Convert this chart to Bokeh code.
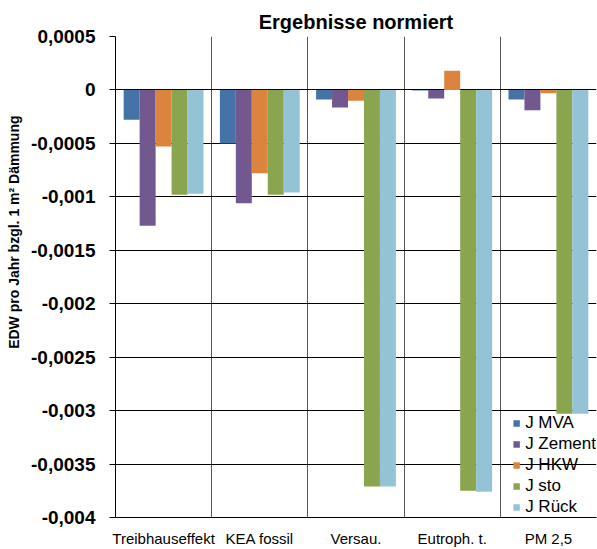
import math
from bokeh.plotting import figure
from bokeh.models import (ColumnDataSource, FixedTicker, CustomJSTickFormatter, Title)
from bokeh.transform import dodge
from bokeh.embed import file_html
from bokeh.resources import INLINE

# ---- data ----
categories = ["Treibhauseffekt", "KEA fossil", "Versau.", "Eutroph. t.", "PM 2,5"]
series_names = ["J MVA", "J Zement", "J HKW", "J sto", "J Rück"]
j_mva = [-0.00028, -0.00050, -0.00009, -0.000005, -0.00009]
j_zement = [-0.00127, -0.00106, -0.000165, -0.00008, -0.00019]
j_hkw = [-0.00053, -0.00078, -0.00010, 0.00018, -0.00003]
j_sto = [-0.00098, -0.00098, -0.00371, -0.00375, -0.00303]
j_rueck = [-0.00097, -0.00096, -0.00371, -0.00376, -0.00303]
y_ticks = [0.0005, 0.0, -0.0005, -0.001, -0.0015, -0.002, -0.0025, -0.003, -0.0035, -0.004]

colors = ["#4572A7", "#71588F", "#DB843D", "#89A54E", "#93C3D5"]
columns = ["mva", "zement", "hkw", "sto", "rueck"]

x_pos = [i + 0.5 for i in range(len(categories))]
source = ColumnDataSource(dict(x=x_pos, mva=j_mva, zement=j_zement, hkw=j_hkw,
                               sto=j_sto, rueck=j_rueck))

p = figure(width=597, height=549, x_range=(0, len(categories)), y_range=(-0.004, 0.0005),
           output_backend="svg", toolbar_location=None,
           min_border_left=115, min_border_right=1, min_border_top=36, min_border_bottom=28)

p.title.text = "Ergebnisse normiert"
p.title.text_font = "Liberation Sans"
p.title.text_font_size = "20px"
p.title.text_font_style = "bold"
p.title.text_color = "#000000"
p.title.align = "center"
p.title.standoff = 7

bw = 0.166
for k, (col, name, c) in enumerate(zip(columns, series_names, colors)):
    p.vbar(x=dodge("x", (k - 2) * bw, range=p.x_range), top=col, bottom=0, width=bw,
           source=source, fill_color=c, line_color=None, legend_label=name)

# y axis
p.yaxis.ticker = FixedTicker(ticks=y_ticks)
p.yaxis.formatter = CustomJSTickFormatter(code="""
const v = Math.round(tick * 100000) / 100000;
if (v === 0) { return "0"; }
return v.toString().replace(".", ",");
""")
p.yaxis.major_label_text_font = "Liberation Sans"
p.yaxis.major_label_text_font_size = "19px"
p.yaxis.major_label_text_font_style = "bold"
p.yaxis.major_label_text_color = "#000000"
p.yaxis.major_tick_out = 6
p.yaxis.major_tick_in = 0
p.yaxis.minor_tick_line_color = None
p.yaxis.axis_line_color = "#000000"
p.yaxis.major_tick_line_color = "#000000"
p.yaxis.major_label_standoff = 14

# x axis
p.xaxis.ticker = FixedTicker(ticks=x_pos)
p.xaxis.major_label_overrides = {x: c for x, c in zip(x_pos, categories)}
p.xaxis.major_label_text_font = "Liberation Sans"
p.xaxis.major_label_text_font_size = "15px"
p.xaxis.major_label_text_color = "#000000"
p.xaxis.major_tick_line_color = None
p.xaxis.minor_tick_line_color = None
p.xaxis.axis_line_color = "#000000"
p.xaxis.major_label_standoff = 6

# grids
p.ygrid.ticker = FixedTicker(ticks=y_ticks)
p.ygrid.grid_line_color = "#000000"
p.ygrid.grid_line_width = 1
p.xgrid.ticker = FixedTicker(ticks=list(range(len(categories) + 1)))
p.xgrid.grid_line_color = "#555555"
p.xgrid.grid_line_width = 1
p.outline_line_color = None

# y axis title (side title, positioned above the frame centre like the original)
ytitle = Title(text="EDW pro Jahr bzgl. 1 m² Dämmung", align="right", offset=79,
               vertical_align="top", standoff=10,
               text_font="Liberation Sans", text_font_size="14px", text_font_style="bold",
               text_color="#000000")
p.add_layout(ytitle, "left")

# legend
p.legend.location = "bottom_right"
p.legend.background_fill_alpha = 0
p.legend.border_line_alpha = 0
p.legend.label_text_font = "Liberation Sans"
p.legend.label_text_font_size = "17px"
p.legend.label_text_color = "#000000"
p.legend.glyph_width = 8
p.legend.glyph_height = 8
p.legend.label_height = 21
p.legend.label_standoff = 5
p.legend.spacing = 0
p.legend.padding = 0
p.legend.margin = 0

open("out.html", "w").write(file_html(p, INLINE))
